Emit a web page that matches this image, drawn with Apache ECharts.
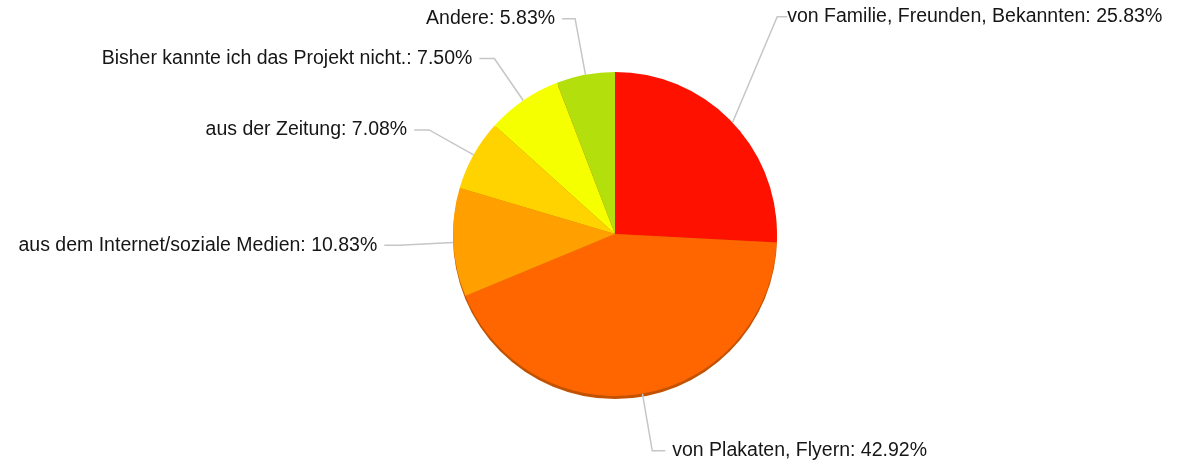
<!DOCTYPE html>
<html>
<head>
<meta charset="utf-8">
<script src="https://cdn.jsdelivr.net/npm/echarts@6/dist/echarts.min.js"></script>
<style>
  html, body { margin: 0; padding: 0; background: #fff; }
  #chart { width: 1180px; height: 463px; }
</style>
</head>
<body>
<div id="chart"></div>
<script>
// Antworten (Anzahl), Reihenfolge im Uhrzeigersinn ab 12 Uhr
var categories = [
  'von Familie, Freunden, Bekannten',
  'von Plakaten, Flyern',
  'aus dem Internet/soziale Medien',
  'aus der Zeitung',
  'Bisher kannte ich das Projekt nicht.',
  'Andere'
];
var counts = [62, 103, 26, 17, 18, 14];
var colors = ['#ff1100', '#ff6600', '#ff9f00', '#ffd300', '#f6ff00', '#b3e00d'];
var lineLengths = [52, 58, 54, 51, 51, 57];
var lineLengths2 = [10, 13, 15, 15, 15, 13];

var total = counts.reduce(function (a, b) { return a + b; }, 0);

var chart = echarts.init(document.getElementById('chart'));

var data = categories.map(function (name, i) {
  return {
    name: name,
    value: counts[i],
    itemStyle: { color: colors[i] },
    labelLine: { length: lineLengths[i], length2: lineLengths2[i] }
  };
});

chart.setOption({
  backgroundColor: '#ffffff',
  animation: false,
  series: [
    {
      // dunkler Rand unten (3D-Schatten)
      type: 'pie',
      silent: true,
      z: 1,
      center: [615, 237],
      radius: 162,
      label: { show: false },
      labelLine: { show: false },
      itemStyle: { color: '#c25200' },
      data: [1]
    },
    {
      type: 'pie',
      z: 2,
      center: [615, 234],
      radius: 162,
      startAngle: 90,
      clockwise: true,
      avoidLabelOverlap: false,
      label: {
        show: true,
        color: '#161616',
        fontFamily: 'Liberation Sans, Arial, sans-serif',
        fontSize: 19.5,
        distanceToLabelLine: 7,
        formatter: function (p) {
          return p.name + ': ' + (p.value / total * 100).toFixed(2) + '%';
        }
      },
      labelLine: {
        show: true,
        smooth: false,
        lineStyle: { color: '#c6c6c6', width: 1.5 }
      },
      labelLayout: function (params) {
        // Familie-Beschriftung nach oben ruecken wie im Original
        if (params.dataIndex === 0) {
          return { y: params.labelRect.y + params.labelRect.height / 2 - 70 };
        }
        return {};
      },
      data: data
    }
  ]
});
</script>
</body>
</html>
